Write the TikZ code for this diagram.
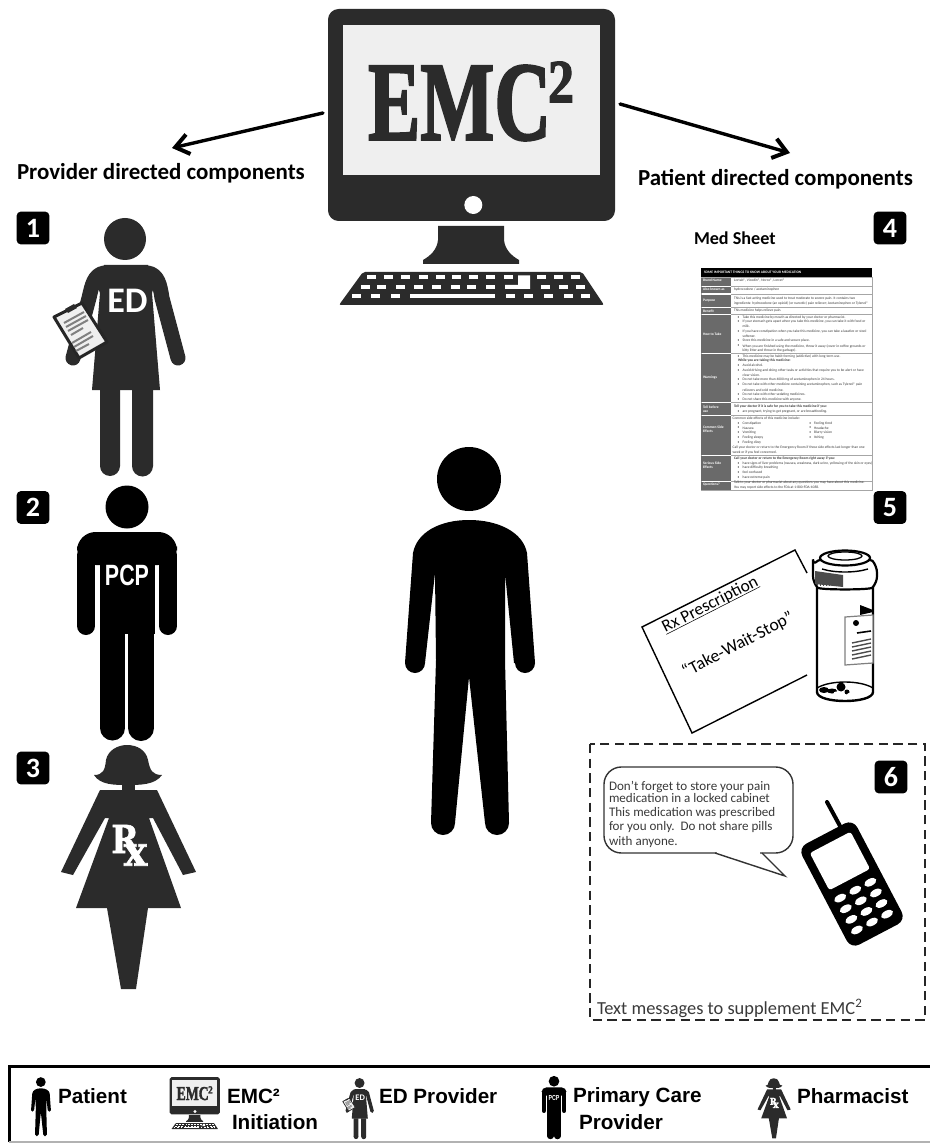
\documentclass[tikz,border=0pt]{standalone}
\usepackage{fontspec}
\usepackage{graphicx}
\usetikzlibrary{arrows.meta}
\setmainfont{Carlito}
\newfontfamily\arialf{Liberation Sans}
\newfontfamily\timesf[BoldFeatures={FakeBold=2.2}]{Liberation Serif}
\newfontfamily\dejaserif[BoldFeatures={FakeBold=1.5}]{DejaVu Serif}
\newcommand{\fsz}[1]{\fontsize{#1}{#1}\selectfont}
\definecolor{darkfig}{HTML}{2B2B2B}
\definecolor{scrn}{HTML}{EFEFEF}
\definecolor{tabgray}{HTML}{6A6A6A}
\definecolor{txtgray}{HTML}{3A3A3A}
\tikzset{
  lw/.style={line width=#1*0.75pt},
  lbl/.style={inner sep=0pt,outer sep=0pt},
  badge/.style={fill=black,rounded corners=3pt,minimum size=24.5pt,inner sep=0pt,text=white,font=\fsz{21}\bfseries},
  arrowln/.style={lw=3.4,line cap=round,-{Straight Barb[length=10pt,width=15pt,line width=3pt]}},
  legendtxt/.style={lbl,anchor=west,font=\arialf\bfseries\fsz{15.5},text=black},
  sheet/.style={lbl,anchor=west,text=txtgray,font=\fsz{2.7}},
}
% ---- figures (coordinates are reference pixels, y downward)
\newcommand{\monitorfig}{%
  \fill[darkfig,rounded corners=8pt] (328,9) rectangle (615,221);
  \fill[scrn] (343,25) rectangle (600,175);
  \node[lbl,text=darkfig] (emc) at (459.5,103) {\scalebox{0.70}[1]{\timesf\bfseries\fsz{84}EMC}};
  \node[lbl,text=darkfig] (emcsq) at (561,82) {\scalebox{0.85}[1]{\timesf\bfseries\fsz{46}2}};
  \fill[white] (473.3,205) circle (9);
  \fill[darkfig] (438,226) -- (504,226) -- (504,240) .. controls (505,250) and (512,256) .. (519,260)
     -- (519,264) -- (423,264) -- (423,260) .. controls (430,256) and (437,250) .. (438,240) -- cycle;
  \fill[darkfig,rounded corners=1.5pt] (363,272) -- (582,272) -- (604,305) -- (339,305) -- cycle;
  \foreach \z in {215,265,317,370,420,470,520,572,625,725,775,825}
    \fill[white] ({300+\z/3-4.5},275.5) rectangle ++(9,3.6);
  \foreach \z in {195,245,300,355,410,465,515,570,735,790,840}
    \fill[white] ({300+\z/3-4.5},285) rectangle ++(9,3.6);
  \foreach \z in {170,225,285,630,685,745,805,855}
    \fill[white] ({300+\z/3-4.5},294.5) rectangle ++(9,3.6);
  \fill[white] (410,294.5) rectangle (495,298.1);
  \fill[white] (518,275.5) -- (530,275.5) -- (530,289) -- (505,289) -- (505,285) -- (518,285) -- cycle;
}
\newcommand{\patientfig}{%
  \fill[black] (469,479) circle (32);
  \fill[black] (405,663) -- (413,553) .. controls (417,532) and (440,520) .. (469,520)
     .. controls (498,520) and (523,532) .. (527,553) -- (535,663) -- (514,663) -- (505,573)
     -- (505,660) -- (509,823) -- (485,823) -- (469,677) -- (455,823) -- (431,823)
     -- (436,660) -- (435,573) -- (425,663) -- cycle;
  \fill[black] (415,663) circle (10) (525,663) circle (10) (443,823) circle (12) (497,823) circle (12);
}
\newcommand{\edfig}{%
  \fill[darkfig] (125,239) circle (21);
  \draw[darkfig,lw=15,line cap=round,line join=round] (148,273) .. controls (158,275) and (160,285) .. (162,298) -- (178,358);
  \draw[darkfig,lw=15,line cap=round,line join=round] (104,273) .. controls (94,275) and (92,285) .. (89,298) -- (73,358);
  \fill[darkfig] (104,265) -- (148,265) -- (155,283) -- (152,293) -- (160,390) -- (92,390) -- (100,293) -- (96,283) -- cycle;
  \fill[darkfig] (100,388) rectangle (120,466) (132,388) rectangle (153,466);
  \fill[darkfig] (110,466) circle (10) (142.5,466) circle (10.5);
  \node[lbl,text=white] (edtag) at (127.5,301) {\fsz{27}\bfseries ED};
  \draw[black!85,lw=3,fill=scrn,line join=round] (54,317) -- (82,303) -- (107,342) -- (79,358) -- cycle;
  \fill[darkfig] (65,309) -- (74,304) -- (77,308) -- (68,313) -- cycle;
  \draw[gray,lw=2] (64,323) -- (84,312) (66,327) -- (86,316) (68,331) -- (88,320) (71,335) -- (83,328)
     (72,343) -- (91,332) (74,347) -- (93,336) (76,351) -- (89,344);
}
\newcommand{\pcpfig}{%
  \fill[black] (127,507) circle (21.5);
  \fill[black,rounded corners=14pt] (77,565) -- (77,532) -- (177,532) -- (177,565) -- cycle;
  \draw[black,lw=18,line cap=round] (86,555) -- (86,626) (168,555) -- (168,626);
  \fill[black] (100,550) rectangle (155,634);
  \draw[black,lw=25,line cap=round] (112.5,630) -- (112.5,728);
  \draw[black,lw=26,line cap=round] (141,630) -- (141,728);
  \node[lbl,text=white] (pcptag) at (127,575.5) {\scalebox{0.73}[1]{\arialf\bfseries\fsz{22}PCP}};
}
\newcommand{\pharmfig}{%
  \fill[darkfig] (94,775) .. controls (103,775) and (105,770) .. (106,760) .. controls (108,750) and (118,745) .. (127,745)
     .. controls (137,745) and (146,750) .. (148,760) .. controls (150,770) and (152,775) .. (162,775)
     .. controls (155,785) and (140,785) .. (127,785) .. controls (115,785) and (100,785) .. (94,775) -- cycle;
  \fill[darkfig] (122,783) rectangle (135,792);
  \fill[darkfig] (100,790) -- (157,790) -- (196,872) -- (183,875) -- (153,818) -- (149,818) -- (181,908) -- (148,908)
     -- (136,989) -- (121,989) -- (107,908) -- (76,908) -- (109,818) -- (105,818) -- (73,875) -- (61,872) -- cycle;
  \node[lbl,text=white] (rtag) at (125,839) {\scalebox{0.85}[1]{\dejaserif\bfseries\fsz{29}R}};
  \node[lbl,text=white] (xtag) at (135.5,855) {\scalebox{0.95}[1]{\dejaserif\bfseries\fsz{31}x}};
}
\newcommand{\mr}[3]{\node[sheet] at ({670+#1/3},{210+#2/3}) {#3};}
\newcommand{\mb}[2]{\node[sheet] at ({670+203/3},{210+#1/3}) {•}; \node[sheet] at ({670+218/3},{210+#1/3}) {#2};}
\newcommand{\ml}[2]{\node[lbl,anchor=west,text=white,font=\fsz{2.7}\bfseries,align=left] at (703,{210+#1/3}) {#2};}
\begin{document}
\begin{tikzpicture}[x=0.75pt,y=-0.75pt]
\useasboundingbox (0,0) rectangle (929,1144);
\fill[white] (0,0) rectangle (929,1144);
% main computer
\monitorfig
\coordinate (mL) at (323,113);
\coordinate (tipL) at (172,148);
\coordinate (mR) at (620,104);
\coordinate (tipR) at (790,153);
\draw[arrowln] (mL) -- (tipL);
\draw[arrowln] (mR) -- (tipR);
\node[lbl,anchor=west] (provlabel) at (17,173.5) {\fsz{17.2}\bfseries Provider directed components};
\node[lbl,anchor=west] (patlabel) at (638,179) {\fsz{17.2}\bfseries Patient directed components};
% badges
\node[badge] (b1) at (33,228) {1};
\node[badge] (b2) at (33,507.5) {2};
\node[badge] (b3) at (33,768) {3};
\node[badge] (b4) at (890,228) {4};
\node[badge] (b5) at (890,507.5) {5};
\node[badge] (b6) at (891,777) {6};
% figures
\edfig
\pcpfig
\pharmfig
\patientfig
% med sheet
\node[lbl,anchor=west] (medsheet) at (694,238) {\fsz{13.6}\bfseries Med Sheet};
\fill[black] (701,268.3) rectangle (872,276.7);
\draw[gray!70,lw=0.6] (701,277.2) rectangle (872,490);
\foreach \a/\b in {277.7/286,286.7/293.3,295/307.3,308.3/314.3,315.3/353.3,354/401.7,402.7/415,416/455,456/480.7,481.7/490}
  \fill[tabgray] (701,\a) rectangle (731,\b);
\foreach \a in {286.3,294,307.8,314.8,353.6,402.2,415.5,455.5,481.2}
  \draw[gray!70,lw=0.6] (731,\a) -- (872,\a);
\node[lbl,anchor=west,text=white,font=\fsz{2.7}\bfseries] at (704,272.5) {SOME IMPORTANT THINGS TO KNOW ABOUT YOUR MEDICATION};
\ml{212}{Brand Name}
\ml{238}{Also known as}
\ml{272}{Purpose}
\ml{303}{Benefit}
\ml{372}{How to Take}
\ml{504}{Warnings}
\ml{597}{Tell before\\use}
\ml{658}{Common Side\\Effects}
\ml{765}{Serious Side\\Effects}
\ml{824}{Questions?}
\mr{192}{212}{Lortab®, Vicodin®, Norco®, Lorcet®}
\mr{192}{238}{hydrocodone / acetaminophen}
\mr{192}{266}{This is a fast acting medicine used to treat moderate to severe pain. It contains two}
\mr{192}{281}{ingredients: hydrocodone (an opioid) (or narcotic) pain reliever; Acetaminophen or Tylenol®}
\mr{192}{303}{This medicine helps relieve pain.}
\mb{322}{Take this medicine by mouth as directed by your doctor or pharmacist.}
\mb{336}{If your stomach gets upset when you take this medicine, you can take it with food or}
\mr{218}{350}{milk.}
\mb{365}{If you have constipation when you take this medicine, you can take a laxative or stool}
\mr{218}{379}{softener.}
\mb{393}{Store this medicine in a safe and secure place.}
\mb{408}{When you are finished using the medicine, throw it away (cover in coffee grounds or}
\mr{218}{422}{kitty litter and throw in the garbage).}
\mb{439}{This medicine may be habit-forming (addictive) with long term use.}
\mr{204}{453}{\bfseries While you are taking this medicine:}
\mb{467}{Avoid alcohol.}
\mb{481}{Avoid driving and doing other tasks or activities that require you to be alert or have}
\mr{218}{496}{clear vision.}
\mb{510}{Do not take more than 4000 mg of acetaminophen in 24 hours.}
\mb{525}{Do not take with other medicine containing acetaminophen, such as Tylenol® pain}
\mr{218}{540}{relievers and cold medicine.}
\mb{554}{Do not take with other sedating medicines.}
\mb{568}{Do not share this medicine with anyone.}
\mr{192}{590}{\bfseries Tell your doctor if it is safe for you to take this medicine if you:}
\mb{604}{are pregnant, trying to get pregnant, or are breastfeeding.}
\mr{188}{624}{Common side effects of this medicine include:}
\mb{640}{Constipation}
\mb{654}{Nausea}
\mb{669}{Vomiting}
\mb{683}{Feeling sleepy}
\mb{698}{Feeling dizzy}
\mr{418}{640}{•}\mr{432}{640}{Feeling tired}
\mr{418}{654}{•}\mr{432}{654}{Headache}
\mr{418}{669}{•}\mr{432}{669}{Blurry vision}
\mr{418}{683}{•}\mr{432}{683}{Itching}
\mr{188}{713}{Call your doctor or return to the Emergency Room if these side effects last longer than one}
\mr{188}{727}{week or if you feel concerned.}
\mr{192}{745}{\bfseries Call your doctor or return to the Emergency Room right away if you:}
\mb{760}{have signs of liver problems (nausea, weakness, dark urine, yellowing of the skin or eyes)}
\mb{774}{have difficulty breathing}
\mb{788}{feel confused}
\mb{802}{have extreme pain}
\mr{192}{817}{Talk to your doctor or pharmacist about any questions you may have about this medicine.}
\mr{192}{832}{You may report side effects to the FDA at 1-800-FDA-1088.}
% prescription card
\draw[black,lw=1.4,line join=miter] (807,573) -- (795,550) -- (642,627) -- (692,733) -- (807,675);
\node[lbl,rotate=27] (rx) at (713,610) {\fsz{13}\underline{\smash{Rx Prescription}}};
\node[lbl,rotate=27.5] (twsnode) at (738,645) {\fsz{13.2}“Take-Wait-Stop”};
% bottle
\draw[black,lw=2.4,fill=white] (817,585) -- (817,692) .. controls (817,704) and (873,704) .. (873,692) -- (873,585) -- cycle;
\draw[black,lw=1.4] (817,688) .. controls (830,680) and (860,680) .. (873,688);
\fill[black] (824,690) ellipse (5 and 3) (832,691) ellipse (5 and 2.5) (841,687) circle (4.5) (847,692) circle (2.5);
\fill[white] (836,694) circle (2.5) (842,695) circle (2.5) (849,695) circle (2);
\fill[black] (860,605) -- (873,610) -- (873,612) -- (860,615) -- cycle;
\draw[gray,lw=1.2,fill=white] (845,617) -- (873,615) -- (873,663) -- (845,665) -- cycle;
\fill[black] (856,623) circle (3);
\draw[black,lw=1.6] (857,633) -- (871,631);
\foreach \yy in {643,647,651,655,659}
  \draw[black!70,lw=1.4] (852,\yy) -- (871,{\yy-4});
\draw[black,lw=2.2,fill=white,rounded corners=5pt] (813,566) -- (813,583) .. controls (820,590) and (870,590) .. (877,583) -- (877,566) .. controls (870,558) and (820,558) .. (813,566) -- cycle;
\fill[gray!60!black] (815,571) -- (843,575) -- (843,587) -- (815,584) -- cycle;
\foreach \xx in {817,820,...,841}
  \draw[black!70,lw=0.7] (\xx,{572+(\xx-817)*0.12}) -- (\xx,586);
\draw[black,lw=2.2,fill=white] (845,558) ellipse (25 and 7.5);
\draw[black,lw=1.3] (845,556) ellipse (17 and 4);
\draw[black,lw=1.4] (822,569) .. controls (835,573) and (855,573) .. (868,569);
% text-message panel
\draw[black!85,lw=1.6,dash pattern=on 7pt off 4pt] (590,744) rectangle (925,1020);
\draw[black!80,lw=1.4,rounded corners=13pt] (604,767) rectangle (793,853);
\fill[white] (716.5,851) -- (760,851) -- (760,856) -- (716.5,856) -- cycle;
\draw[black!80,lw=1.4,line join=miter] (715,853) -- (785,876) -- (762,853);
\node[lbl,anchor=west,text=txtgray] (m1) at (609,787) {\fsz{9.8}Don't forget to store your pain};
\node[lbl,anchor=west,text=txtgray] (m2) at (609,798) {\fsz{9.8}medication in a locked cabinet};
\node[lbl,anchor=west,text=txtgray] (m3) at (609,813) {\fsz{9.8}This medication was prescribed};
\node[lbl,anchor=west,text=txtgray] (m4) at (609,827) {\fsz{9.8}for you only.\ \ Do not share pills};
\node[lbl,anchor=west,text=txtgray] (m5) at (609,842) {\fsz{9.8}with anyone.};
\draw[black,lw=4,line cap=round] (827,802) -- (840,826);
\begin{scope}[shift={(852,884)},rotate=27.7]
  \fill[black,rounded corners=7pt] (-31,-57) rectangle (31,57);
  \fill[white,rounded corners=2pt] (-23,-47) rectangle (23,-5);
  \foreach \yy in {7,19,31,43}
    \foreach \xx in {-17,0,17}
      \fill[white] (\xx,\yy) ellipse (6.5 and 3.6);
\end{scope}
\node[lbl,anchor=west,text=txtgray] (smsnote) at (597,1008) {\fsz{13.8}Text messages to supplement EMC\textsuperscript{2}};
% legend
\draw[black,lw=3] (9,1142) -- (9,1066) -- (935,1066);
\draw[gray!60,lw=1.2] (9,1142) -- (935,1142);
\begin{scope}[transform canvas={shift={(-30.7,1009)},scale=0.1525}]\patientfig\end{scope}
\begin{scope}[transform canvas={shift={(112,1075.5)},scale=0.1755}]\monitorfig\end{scope}
\begin{scope}[transform canvas={shift={(330,1026.5)},scale=0.2365}]\edfig\end{scope}
\begin{scope}[transform canvas={shift={(522.5,955.5)},scale=0.248}]\pcpfig\end{scope}
\begin{scope}[transform canvas={shift={(742.5,895)},scale=0.246}]\pharmfig\end{scope}
\node[legendtxt] (l1) at (58,1096) {Patient};
\node[legendtxt] (l2) at (227,1096) {EMC²};
\node[legendtxt] (l2b) at (232,1122) {Initiation};
\node[legendtxt] (l3) at (379,1096) {ED Provider};
\node[legendtxt] (l4) at (573,1097) {Primary Care};
\node[legendtxt] (l4b) at (579,1122) {Provider};
\node[legendtxt] (l5) at (797,1096) {Pharmacist};
\end{tikzpicture}
\end{document}
